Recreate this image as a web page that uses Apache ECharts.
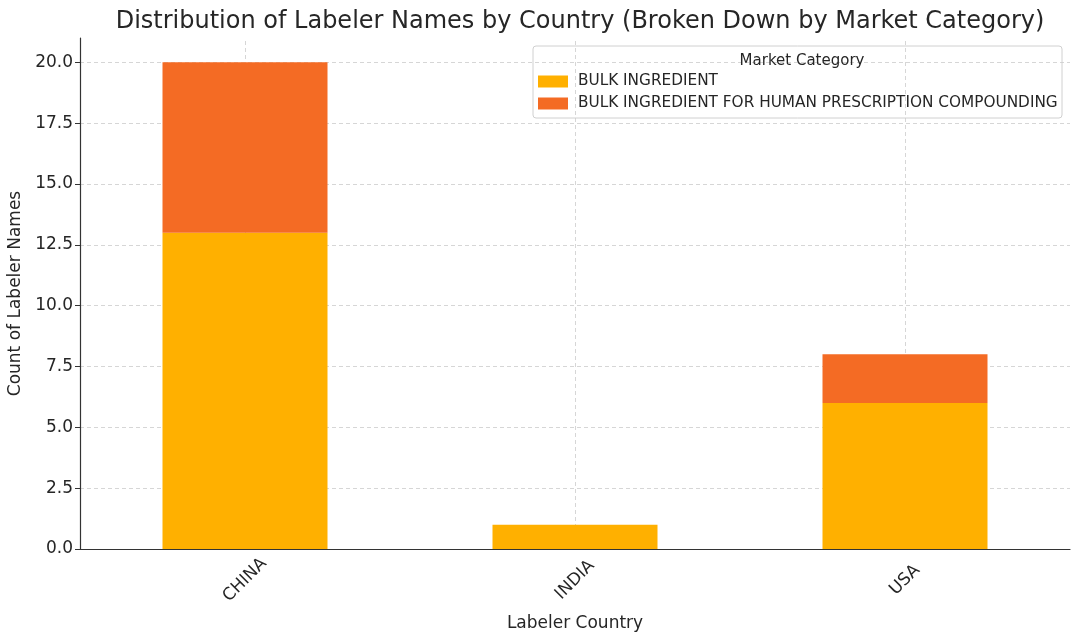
<!DOCTYPE html>
<html>
<head>
<meta charset="utf-8">
<script src="https://cdn.jsdelivr.net/npm/echarts@6/dist/echarts.min.js"></script>
<style>
  html, body { margin: 0; padding: 0; background: #fff; }
  #chart { width: 1080px; height: 643px; }
</style>
</head>
<body>
<div id="chart"></div>
<script>
// data
var countries = ['CHINA', 'INDIA', 'USA'];
var bulkIngredient = [13, 1, 6];
var bulkForCompounding = [7, 0, 2];
var yTicks = [0, 2.5, 5, 7.5, 10, 12.5, 15, 17.5, 20];

var font = 'DejaVu Sans';
var txt = '#262626';
var gridLine = { color: '#cccccc', type: [4, 3], width: 0.8 };
var chart = echarts.init(document.getElementById('chart'));

var option = {
  backgroundColor: '#fff',
  animation: false,
  textStyle: { fontFamily: font },
  title: [{
    text: 'Distribution of Labeler Names by Country (Broken Down by Market Category)',
    left: 575, top: 5, textAlign: 'center',
    textStyle: { fontFamily: font, fontSize: 24, fontWeight: 'normal', color: txt }
  }, {
    text: 'Market Category',
    left: 797, top: 49, textAlign: 'center',
    textStyle: { fontFamily: font, fontSize: 15, fontWeight: 'normal', color: txt }
  }],
  graphic: [{
    type: 'rect', z: 0,
    shape: { x: 533, y: 46, width: 529, height: 72, r: 3 },
    style: { fill: 'rgba(255,255,255,0.85)', stroke: '#d0d0d0', lineWidth: 1 }
  }],
  legend: {
    orient: 'vertical',
    left: 533, top: 74,
    padding: [0, 0, 0, 5],
    itemGap: 7,
    itemWidth: 30, itemHeight: 12,
    icon: 'rect',
    textStyle: { fontFamily: font, fontSize: 15.3, color: txt, padding: [0, 0, 0, 5] },
    data: ['BULK INGREDIENT', 'BULK INGREDIENT FOR HUMAN PRESCRIPTION COMPOUNDING']
  },
  grid: { left: 80, right: 10, top: 38, bottom: 94, outerBoundsMode: 'none', containLabel: false },
  xAxis: {
    type: 'category',
    data: countries,
    name: 'Labeler Country',
    nameLocation: 'middle',
    nameGap: 66,
    nameTextStyle: { fontFamily: font, fontSize: 17, color: txt },
    axisLine: { lineStyle: { color: '#333', width: 1.2 } },
    axisTick: { alignWithLabel: true, length: 5, lineStyle: { color: '#333' } },
    axisLabel: {
      rotate: 45, align: 'center', verticalAlign: 'middle',
      fontFamily: font, fontSize: 17, color: txt, margin: 31
    },
    splitLine: { show: false },
    z: 10
  },
  yAxis: {
    type: 'value',
    min: 0, max: 21, interval: 2.5,
    name: 'Count of Labeler Names',
    nameLocation: 'middle',
    nameGap: 52,
    nameTextStyle: { fontFamily: font, fontSize: 17, color: txt },
    axisLine: { show: true, lineStyle: { color: '#333', width: 1.2 } },
    axisTick: { show: true, length: 5, lineStyle: { color: '#333' } },
    axisLabel: {
      fontFamily: font, fontSize: 17, color: txt, margin: 7,
      showMaxLabel: false,
      formatter: function (v) { return yTicks.indexOf(v) >= 0 ? v.toFixed(1) : ''; }
    },
    splitLine: { show: true, showMaxLine: false, lineStyle: gridLine }
  },
  series: [{
    name: 'BULK INGREDIENT',
    type: 'bar',
    stack: 'total',
    barWidth: '50%',
    itemStyle: { color: '#FFB000' },
    markLine: {
      silent: true,
      symbol: 'none',
      label: { show: false },
      lineStyle: gridLine,
      z: 1,
      data: countries.map(function (c) { return { xAxis: c }; })
    },
    data: bulkIngredient
  }, {
    name: 'BULK INGREDIENT FOR HUMAN PRESCRIPTION COMPOUNDING',
    type: 'bar',
    stack: 'total',
    barWidth: '50%',
    itemStyle: { color: '#F46B24' },
    data: bulkForCompounding
  }]
};
chart.setOption(option);
</script>
</body>
</html>
